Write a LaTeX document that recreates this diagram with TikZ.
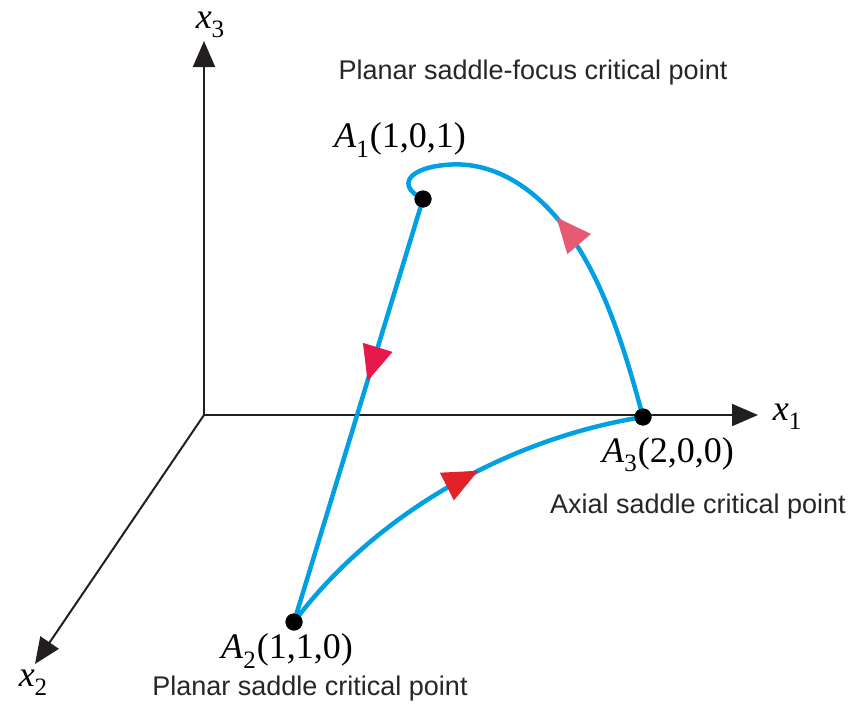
\documentclass[tikz,border=0pt]{standalone}
\usepackage{fontspec}
\setmainfont{Liberation Serif}
\newfontfamily\lsans{Liberation Sans}
\usetikzlibrary{arrows.meta,decorations.markings}
\definecolor{curveblue}{RGB}{0,160,227}
\definecolor{axisgray}{RGB}{35,31,32}
\definecolor{pinkarrow}{RGB}{232,90,116}
\definecolor{crimsonarrow}{RGB}{230,25,74}
\definecolor{redarrow}{RGB}{228,33,39}
\newcommand\lowsub[1]{\raisebox{-0.55ex}{\fontsize{25}{25}\selectfont #1}}
\newcommand\ptlab[3]{\textit{#1}\lowsub{#2}\kern1pt #3}
\tikzset{
  axis/.style={draw=axisgray, line width=2pt, -{Triangle[length=26pt,width=22pt]}},
  traj/.style={draw=curveblue, line width=4.5pt},
  dot/.style={circle, fill=black, minimum size=17pt, inner sep=0pt},
  mlab/.style={font=\fontsize{36}{36}\selectfont, inner sep=0pt},
  note/.style={font=\lsans\fontsize{27}{27}\selectfont, text=black!85, inner sep=0pt},
  midarrow/.style n args={2}{postaction={decorate}, decoration={markings,
     mark=at position #1 with {\arrow[#2, line width=0pt]{Triangle[length=35pt,width=31pt]}}}}
}
\begin{document}
\begin{tikzpicture}[x=1pt,y=-1pt]
\useasboundingbox (0,0) rectangle (851,704);
% axes
\coordinate (O) at (204,415);
\coordinate (X1) at (758,415);
\coordinate (X2) at (35,664);
\coordinate (X3) at (204,41);
\draw[axis] (O) -- (X1);
\draw[axis] (O) -- (X2);
\draw[axis] (O) -- (X3);
\node[mlab] (lx1) at (787,417) {\textit{x}\lowsub{1}};
\node[mlab] (lx2) at (33,683) {\textit{x}\lowsub{2}};
\node[mlab] (lx3) at (210,25) {\textit{x}\lowsub{3}};
% critical points
\node[dot] (A1) at (423,199) {};
\node[dot] (A2) at (294,622) {};
\node[dot] (A3) at (643,417) {};
% trajectories
\draw[traj, midarrow={0.43}{crimsonarrow}] (A1.center) -- (A2.center);
\draw[traj, midarrow={0.58}{redarrow}] (A2.center) .. controls (370,520) and (500,440) .. (A3.center);
\draw[traj, midarrow={0.53}{pinkarrow}] (A3.center) .. controls (625,350) and (605,285) .. (570,235)
   .. controls (535,185) and (490,160) .. (445,165)
   .. controls (410,168) and (395,185) .. (A1.center);
\node[dot] at (A1) {};
\node[dot] at (A2) {};
\node[dot] at (A3) {};
% labels
\node[mlab] (lA1) at (400,140) {\ptlab{A}{1}{(1,0,1)}};
\node[mlab] (lA2) at (287,651) {\ptlab{A}{2}{(1,1,0)}};
\node[mlab] (lA3) at (668,455) {\ptlab{A}{3}{(2,0,0)}};
\node[note] (n1) at (533,73) {Planar saddle-focus critical point};
\node[note] (n3) at (698,507) {Axial saddle critical point};
\node[note] (n2) at (310,689) {Planar saddle critical point};
\end{tikzpicture}
\end{document}
